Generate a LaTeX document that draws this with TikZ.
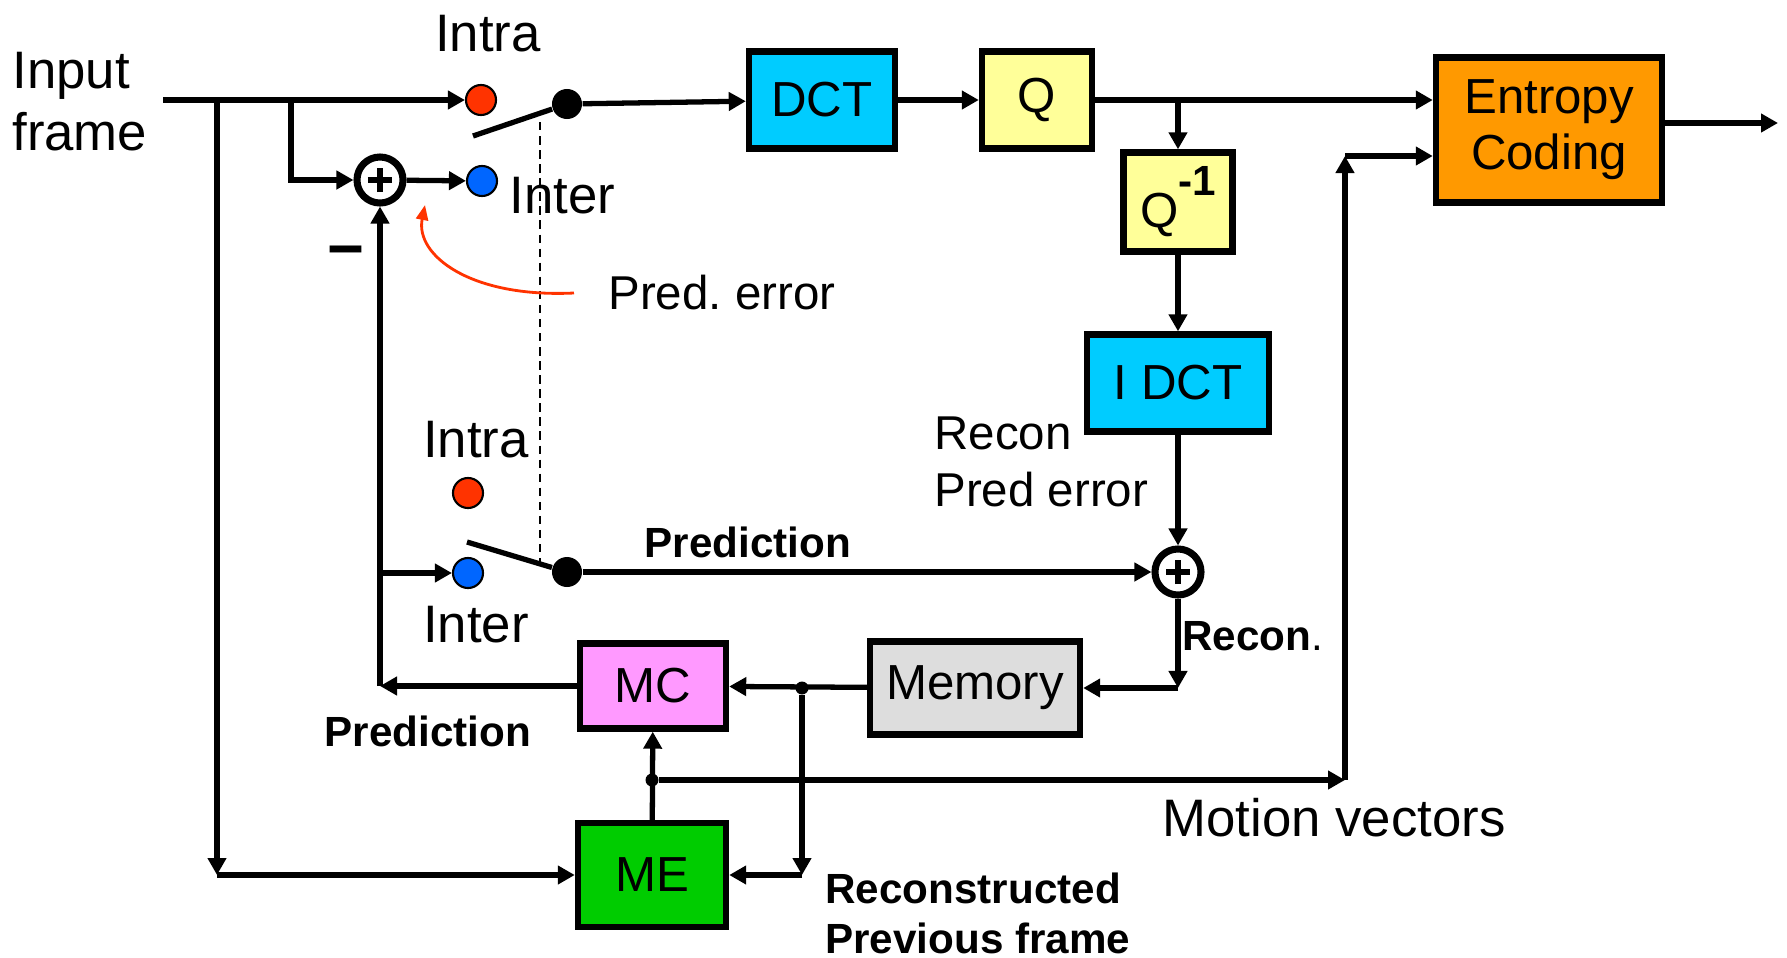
\documentclass[tikz,border=0pt]{standalone}
\usepackage{fontspec}
\setmainfont{Liberation Sans}
\usepackage{tikz}
\definecolor{dctblue}{RGB}{0,204,255}
\definecolor{qyellow}{RGB}{255,255,153}
\definecolor{entorange}{RGB}{255,153,0}
\definecolor{mcpink}{RGB}{255,153,255}
\definecolor{memgray}{RGB}{221,221,221}
\definecolor{megreen}{RGB}{0,204,0}
\definecolor{intrared}{RGB}{255,51,0}
\definecolor{interblue}{RGB}{0,102,255}
\usetikzlibrary{arrows.meta, calc}

\begin{document}
\begin{tikzpicture}[x=0.01cm, y=-0.01cm,
    block/.style={draw, line width=1.8pt, fill=#1, align=center, inner sep=0pt,
                  font=\fontsize{14}{16}\selectfont},
    sum/.style={circle, draw, line width=2pt, minimum size=0.46cm, inner sep=0pt,
                path picture={
                  \draw[line width=1.6pt] ([xshift=-0.12cm]path picture bounding box.center) -- ([xshift=0.12cm]path picture bounding box.center)
                                          ([yshift=-0.12cm]path picture bounding box.center) -- ([yshift=0.12cm]path picture bounding box.center);}},
    contact/.style={circle, draw, line width=0.6pt, fill=#1, minimum size=0.3cm, inner sep=0pt},
    pivot/.style={circle, fill=black, minimum size=0.3cm, inner sep=0pt},
    joint/.style={circle, fill=black, minimum size=0.13cm, inner sep=0pt},
    wire/.style={line width=1.5pt, -{Triangle[length=0.17cm,width=0.18cm]}},
    lever/.style={line width=1.5pt},
    lbl/.style={font=\fontsize{15}{17.6}\selectfont},
    boldlbl/.style={font=\fontsize{12}{14.2}\selectfont\bfseries}
]
    \useasboundingbox (0,0) rectangle (1787,957);

    % blocks
    \node[block=dctblue, minimum width=1.46cm, minimum height=0.97cm] (dct) at (822,100) {DCT};
    \node[block=qyellow, minimum width=1.10cm, minimum height=0.97cm] (q) at (1037,100) {Q};
    \node[block=qyellow, minimum width=1.09cm, minimum height=0.99cm] (qinv) at (1178,202)
        {Q\raisebox{0.32cm}{\fontsize{12}{12}\selectfont\bfseries -1}};
    \node[block=dctblue, minimum width=1.82cm, minimum height=0.97cm] (idct) at (1178,383) {I DCT};
    \node[block=entorange, minimum width=2.26cm, minimum height=1.45cm] (ent) at (1549,130) {Entropy\\Coding};
    \node[block=mcpink, minimum width=1.46cm, minimum height=0.85cm] (mc) at (653,686) {MC};
    \node[block=memgray, minimum width=2.10cm, minimum height=0.93cm] (mem) at (975,688) {Memory};
    \node[block=megreen, minimum width=1.48cm, minimum height=1.04cm] (me) at (652,875) {ME};

    % adders and switches
    \node[sum] (add1) at (380,180) {};
    \node[sum] (add2) at (1178,572) {};
    \node[contact=intrared] (intra1) at (481,100) {};
    \node[contact=interblue] (inter1) at (482,181) {};
    \node[pivot] (sw1) at (567,104) {};
    \node[contact=intrared] (intra2) at (468,493) {};
    \node[contact=interblue] (inter2) at (468,573) {};
    \node[pivot] (sw2) at (567,572) {};
    \coordinate (arm1) at (473,136);
    \coordinate (arm2) at (467,542);

    % labels
    \node[lbl, align=left, anchor=west] (input) at (0,102) {Input\\frame};
    \node[lbl] (intralbl1) at (488,34) {Intra};
    \node[lbl, anchor=west] (interlbl1) at (497,196) {Inter};
    \node[lbl] (intralbl2) at (476,440) {Intra};
    \node[lbl] (interlbl2) at (476,625) {Inter};
    \node[font=\fontsize{18}{18}\selectfont\bfseries] (minus) at (346,258) {−};
    \node[font=\fontsize{13.5}{16}\selectfont, anchor=west] (perr) at (596,293) {Pred.\ error};
    \node[font=\fontsize{13.5}{16.3}\selectfont, align=left, anchor=west] (rpe) at (922,462) {Recon\\Pred error};
    \node[boldlbl, anchor=west] (recon) at (1170,636) {Recon\textmd{.}};
    \node[boldlbl] (predlbl) at (428,731) {Prediction};
    \node[boldlbl, align=left, anchor=west] (rpf) at (813,913) {Reconstructed\\Previous frame};
    \node[lbl] (mvlbl) at (1334,818) {Motion vectors};

    \coordinate (in) at (163,100);
    \coordinate (b1) at (217,100);
    \coordinate (b2) at (291,100);
    \coordinate (out) at (1778,123);
    \coordinate (mvb) at (1345,780);
    \coordinate (mvt) at (1345,156);
    \node[joint] (j1) at (802,688) {};
    \node[joint] (j2) at (me |- mvb) {};

    % forward path
    \draw[wire] (in) -- (intra1);
    \draw[wire] (b1) -- (b1 |- me);
    \draw[wire] (b1 |- me) -- (me);
    \draw[wire] (b2) |- (add1);
    \draw[wire] (add1) -- (inter1);
    \draw[lever] (arm1) -- (sw1);
    \draw[wire] (sw1) -- (dct);
    \draw[wire] (dct) -- (q);
    \draw[wire] (q) -- (q -| ent.west);
    \draw[wire] (ent.east |- out) -- (out);
    \draw[dashed, line width=0.7pt, dash pattern=on 2.4pt off 1.6pt] (540,122) -- (540,563);

    % reconstruction loop
    \draw[wire] (q -| qinv) -- (qinv);
    \draw[wire] (qinv) -- (idct);
    \draw[wire] (idct) -- (add2);
    \draw[wire] (add2) -- (add2 |- mem);
    \draw[wire] (add2 |- mem) -- (mem);
    \draw[wire] (mem) -- (mc);
    \draw[wire] (j1) -- (j1 |- me);
    \draw[wire] (j1 |- me) -- (me);
    \draw[wire] (mc) -- (mc -| add1);
    \draw[wire] (mc -| add1) -- (add1);
    \draw[wire] (add1 |- inter2) -- (inter2);
    \draw[lever] (arm2) -- (sw2);
    \draw[wire] (sw2) -- (add2) node[pos=0.29, above, boldlbl] {Prediction};

    % motion vectors
    \draw[wire] (me) -- (mc);
    \draw[wire] (j2) -- (mvb);
    \draw[wire] (mvb) -- (mvt);
    \draw[wire] (mvt) -- (mvt -| ent.west);

    \draw[intrared, line width=0.8pt, -{Triangle[length=0.15cm,width=0.12cm]}]
        ([xshift=-0.22cm]perr.west) .. controls (470,298) and (415,255) .. (425,205);
\end{tikzpicture}
\end{document}
